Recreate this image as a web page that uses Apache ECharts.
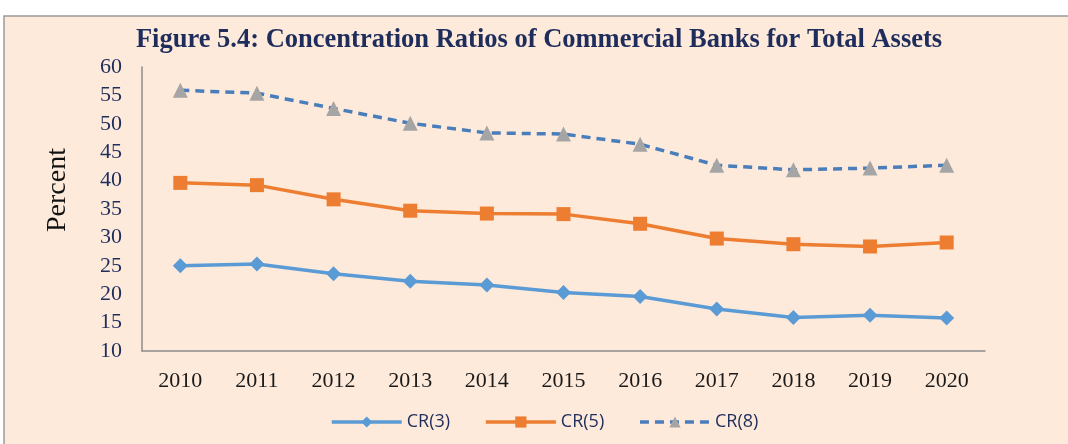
<!DOCTYPE html>
<html>
<head>
<meta charset="utf-8">
<script src="https://cdn.jsdelivr.net/npm/echarts@6/dist/echarts.min.js"></script>
<style>
  html, body { margin: 0; padding: 0; background: #ffffff; }
  #chart { width: 1068px; height: 444px; }
</style>
</head>
<body>
<div id="chart"></div>
<script>
var years = ["2010", "2011", "2012", "2013", "2014", "2015", "2016", "2017", "2018", "2019", "2020"];
var cr3 = [25.0, 25.3, 23.6, 22.3, 21.6, 20.3, 19.6, 17.4, 15.9, 16.3, 15.8];
var cr5 = [39.6, 39.2, 36.7, 34.7, 34.2, 34.1, 32.4, 29.8, 28.8, 28.4, 29.1];
var cr8 = [55.9, 55.4, 52.7, 50.1, 48.4, 48.2, 46.4, 42.7, 41.9, 42.2, 42.7];

var serif = "'Liberation Serif', 'DejaVu Serif', serif";
var navy = "#1F2D5C";

var myChart = echarts.init(document.getElementById("chart"));

var options = {
    backgroundColor: "#ffffff",
    graphic: [
        {
            type: "rect",
            z: -10,
            shape: { x: 4, y: 16, width: 1080, height: 440 },
            style: { fill: "#FDEADB", stroke: "#9a9a9a", lineWidth: 1.5 }
        }
    ],
    title: {
        text: "Figure 5.4: Concentration Ratios of Commercial Banks for Total Assets",
        left: 534,
        textAlign: "center",
        top: 22,
        textStyle: { fontFamily: serif, fontSize: 26.5, fontWeight: "bold", color: navy }
    },
    legend: {
        bottom: 8,
        left: 325,
        itemWidth: 70,
        itemHeight: 14,
        itemGap: 34,
        lineStyle: { width: 3.5 },
        textStyle: { fontFamily: "'Open Sans', 'Liberation Sans', sans-serif", fontSize: 18, color: navy },
        data: ["CR(3)", "CR(5)", "CR(8)"]
    },
    grid: { left: 142, right: 83, top: 67, bottom: 93 },
    xAxis: {
        type: "category",
        data: years,
        boundaryGap: true,
        axisLine: { lineStyle: { color: "#8c8c8c", width: 1.5 } },
        axisTick: { show: false },
        axisLabel: { fontFamily: serif, fontSize: 22, color: "#1a1a1a", margin: 19 }
    },
    yAxis: {
        type: "value",
        min: 10,
        max: 60,
        interval: 5,
        name: "Percent",
        nameLocation: "middle",
        nameGap: 70,
        nameTextStyle: { fontFamily: serif, fontSize: 28, color: "#111", padding: [0, 0, 0, 38] },
        axisLine: { show: true, lineStyle: { color: "#8c8c8c", width: 1.5 } },
        axisTick: { show: false },
        splitLine: { show: false },
        axisLabel: { fontFamily: serif, fontSize: 22, color: navy, margin: 20 }
    },
    series: [
        {
            name: "CR(3)",
            type: "line",
            data: cr3,
            symbol: "diamond",
            symbolSize: 15,
            itemStyle: { color: "#5B9BD5" },
            lineStyle: { color: "#5B9BD5", width: 3.5 }
        },
        {
            name: "CR(5)",
            type: "line",
            data: cr5,
            symbol: "rect",
            symbolSize: 14,
            itemStyle: { color: "#ED7D31" },
            lineStyle: { color: "#ED7D31", width: 3.5 }
        },
        {
            name: "CR(8)",
            type: "line",
            data: cr8,
            symbol: "triangle",
            symbolSize: 15,
            itemStyle: { color: "#A5A5A5" },
            lineStyle: { color: "#4A7EBB", width: 3.5, type: [9, 6] }
        }
    ]
};

myChart.setOption(options);
</script>
</body>
</html>
